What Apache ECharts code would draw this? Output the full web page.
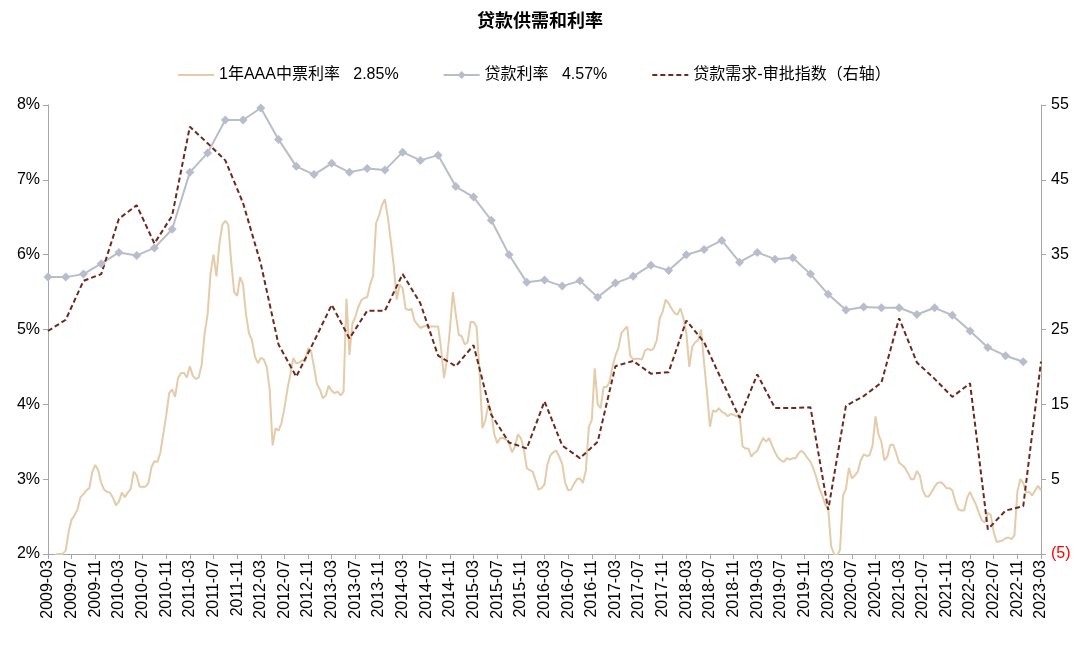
<!DOCTYPE html>
<html><head><meta charset="utf-8">
<script src="https://cdn.jsdelivr.net/npm/echarts/dist/echarts.min.js"></script>
<style>html,body{margin:0;padding:0;background:#fff}#chart{width:1080px;height:669px}</style>
</head><body><div id="chart"></div>
<script>
// ---- categories ----
const startYear = 2009, startMonth = 3, monthCount = 169; // 2009-03 .. 2023-03
const months = [];
for (let i = 0; i < monthCount; i++) {
  const t = startMonth - 1 + i;
  const y = startYear + Math.floor(t / 12), m = t % 12 + 1;
  months.push(y + '-' + (m < 10 ? '0' : '') + m);
}
const halfMonths = [];
months.forEach((m, i) => { halfMonths.push(m + '-01'); if (i < monthCount - 1) halfMonths.push(m + '-16'); });
const quarters = months.filter((m, i) => i % 3 === 0);

// ---- series values ----
// 1年AAA中票利率 (%), half-monthly from 2009-03
const aaaRate = [
1.9,1.9, 1.95,2.0, 2.0,2.0, 2.05,2.3, 2.46,2.52, 2.6,2.76, 2.8,2.85, 2.88,3.1, 3.19,3.12, 2.95,2.86,
2.83,2.82, 2.75,2.65, 2.7,2.82, 2.76,2.82, 2.87,3.1, 3.05,2.9, 2.9,2.9, 2.95,3.16, 3.24,3.23, 3.35,3.6,
3.85,4.15, 4.2,4.1, 4.35,4.42, 4.42,4.36, 4.51,4.38, 4.34,4.36, 4.53,4.95, 5.2,5.75, 6.0,5.71, 6.15,6.4,
6.45,6.4, 5.9,5.5, 5.45,5.7, 5.6,5.2, 4.95,4.86, 4.64,4.55, 4.62,4.6, 4.5,4.2, 3.45,3.68, 3.65,3.75,
3.95,4.2, 4.4,4.62, 4.55,4.56, 4.59,4.57, 4.75,4.72, 4.5,4.27, 4.2,4.08, 4.12,4.25, 4.18,4.15, 4.17,4.12,
4.17,5.41, 4.66,5.08, 5.17,5.3, 5.39,5.42, 5.43,5.6, 5.72,6.42, 6.52,6.66, 6.74,6.5, 6.18,5.85, 5.4,5.6,
5.55,5.28, 5.26,5.28, 5.12,5.07, 5.02,5.04, 5.05,5.04, 5.04,5.04, 5.04,4.75, 4.35,4.6, 5.0,5.5, 5.2,4.93,
4.91,4.8, 4.83,5.1, 5.1,5.04, 4.45,3.68, 3.79,4.0, 3.9,3.6, 3.48,3.55, 3.55,3.53, 3.48,3.36, 3.43,3.6,
3.55,3.4, 3.15,3.12, 3.1,2.98, 2.86,2.88, 2.93,3.2, 3.32,3.36, 3.38,3.3, 3.2,2.95, 2.85,2.86, 2.94,3.0,
3.01,2.95, 3.12,3.7, 3.79,4.48, 4.0,3.95, 4.23,4.23, 4.3,4.5, 4.65,4.75, 4.95,5.0, 5.04,4.65, 4.6,4.61,
4.61,4.6, 4.72,4.74, 4.72,4.75, 4.86,5.15, 5.24,5.4, 5.35,5.28, 5.22,5.2, 5.28,5.15, 4.95,4.5, 4.77,4.83,
4.86,5.0, 4.55,4.15, 3.7,3.92, 3.9,3.95, 3.9,3.88, 3.84,3.87, 3.86,3.84, 3.87,3.44, 3.41,3.41, 3.3,3.35,
3.38,3.47, 3.55,3.5, 3.55,3.45, 3.36,3.29, 3.25,3.23, 3.28,3.26, 3.28,3.28, 3.35,3.38, 3.34,3.28, 3.23,3.14,
3.02,2.88, 2.78,2.66, 2.6,2.1, 2.0,1.97, 2.06,2.78, 2.87,3.15, 3.01,3.05, 3.1,3.25, 3.33,3.31, 3.32,3.45,
3.84,3.6, 3.5,3.25, 3.3,3.46, 3.46,3.35, 3.22,3.19, 3.15,3.08, 3.0,3.0, 3.11,3.05, 2.85,2.77, 2.77,2.83,
2.9,2.95, 2.96,2.93, 2.88,2.88, 2.85,2.7, 2.6,2.58, 2.58,2.75, 2.83,2.74, 2.66,2.55, 2.45,2.42, 2.55,2.52,
2.29,2.16, 2.17,2.18, 2.21,2.22, 2.2,2.25, 2.83,3.0, 2.95,2.82, 2.83,2.78, 2.85,2.91, 2.85
];
// 贷款利率 (%), quarterly from 2009-03
const loanRate = [
5.70,5.70,5.74,5.88,6.03,5.99,6.09,6.34,7.10,7.36,7.80,7.80,7.96,7.54,7.18,7.07,7.22,7.10,
7.15,7.13,7.37,7.26,7.33,6.91,6.77,6.46,6.00,5.63,5.66,5.58,5.65,5.43,5.62,5.71,5.86,5.79,
6.00,6.07,6.19,5.90,6.03,5.94,5.96,5.74,5.47,5.26,5.30,5.29,5.29,5.20,5.29,5.19,4.98,4.76,4.65,4.57
];
// 贷款需求-审批指数, quarterly from 2009-03
const loanDemandIndex = [
24.8,26.3,31.5,32.4,39.8,41.6,36.5,40.2,52.1,49.9,47.6,41.9,33.8,23.0,18.7,23.4,28.3,23.8,
27.5,27.5,32.4,28.5,21.5,20.1,22.9,13.6,9.9,9.1,15.4,9.5,7.8,10.0,20.1,20.8,19.1,19.3,
26.2,23.3,18.2,13.2,19.0,14.5,14.5,14.6,0.9,14.8,16.1,17.9,26.5,20.6,18.4,16.0,17.8,-1.7,0.8,1.4,20.7
];
const leftTicks = {min: 2, max: 8, interval: 1};
const rightTicks = {min: -5, max: 55, interval: 10};

const names = ['1年AAA中票利率', '贷款利率', '贷款需求-审批指数（右轴）'];
const lastVals = {};
lastVals[names[0]] = aaaRate[aaaRate.length - 1];
lastVals[names[1]] = loanRate[loanRate.length - 1];

const FONT = "'Liberation Sans', Arial, 'Noto Sans CJK SC', sans-serif";
const axisGrey = '#A6A6A6';

const chart = echarts.init(document.getElementById('chart'));
chart.setOption({
  animation: false,
  backgroundColor: '#fff',
  textStyle: {fontFamily: FONT},
  title: {
    text: '贷款供需和利率', left: 'center', top: 8,
    textStyle: {fontSize: 18, fontWeight: 'bold', color: '#000', fontFamily: FONT}
  },
  legend: {
    top: 62, left: 172, itemWidth: 36, itemHeight: 10, itemGap: 44,
    textStyle: {fontSize: 16, color: '#000', fontFamily: FONT},
    data: [
      {name: names[0], itemStyle: {opacity: 0}},
      {name: names[1]},
      {name: names[2], itemStyle: {opacity: 0}}
    ],
    formatter: function (name) {
      const v = lastVals[name];
      return v != null ? name + '   ' + v.toFixed(2) + '%' : name;
    }
  },
  grid: {left: 48, right: 39, top: 105, bottom: 115},
  xAxis: [
    {
      type: 'category', data: months, boundaryGap: false,
      axisLine: {onZero: false, lineStyle: {color: axisGrey, width: 1}},
      axisTick: {interval: 3, length: 5, lineStyle: {color: axisGrey}},
      axisLabel: {interval: 3, rotate: 90, fontSize: 16, color: '#000', margin: 6, fontFamily: FONT},
      splitLine: {show: false}
    },
    {type: 'category', data: halfMonths, boundaryGap: false, show: false},
    {type: 'category', data: quarters, boundaryGap: false, show: false}
  ],
  yAxis: [
    {
      type: 'value', min: leftTicks.min, max: leftTicks.max, interval: leftTicks.interval,
      axisLine: {show: true, lineStyle: {color: axisGrey}},
      axisTick: {show: true, length: 5, lineStyle: {color: axisGrey}},
      axisLabel: {formatter: '{value}%', fontSize: 16, color: '#000', margin: 8, fontFamily: FONT},
      splitLine: {show: false}
    },
    {
      type: 'value', position: 'right', min: rightTicks.min, max: rightTicks.max, interval: rightTicks.interval,
      axisLine: {show: true, lineStyle: {color: axisGrey}},
      axisTick: {show: true, length: 5, lineStyle: {color: axisGrey}},
      axisLabel: {
        fontSize: 16, color: '#000', margin: 10, fontFamily: FONT,
        formatter: function (v) { return v < 0 ? '{neg|(' + (-v) + ')}' : String(v); },
        rich: {neg: {color: '#FF0000', fontSize: 16, fontFamily: FONT}}
      },
      splitLine: {show: false}
    }
  ],
  series: [
    {
      name: names[0], type: 'line', xAxisIndex: 1, yAxisIndex: 0, data: aaaRate,
      symbol: 'none', clip: true,
      lineStyle: {color: '#E4CBA9', width: 2}, itemStyle: {color: '#E4CBA9'}
    },
    {
      name: names[1], type: 'line', xAxisIndex: 2, yAxisIndex: 0, data: loanRate,
      symbol: 'diamond', symbolSize: 9, showAllSymbol: true,
      lineStyle: {color: '#B9BDCB', width: 2}, itemStyle: {color: '#B9BDCB'}
    },
    {
      name: names[2], type: 'line', xAxisIndex: 2, yAxisIndex: 1, data: loanDemandIndex,
      symbol: 'none',
      lineStyle: {color: '#6B2A1E', width: 2, type: [5, 3]}, itemStyle: {color: '#6B2A1E'}
    }
  ]
});
</script></body></html>
